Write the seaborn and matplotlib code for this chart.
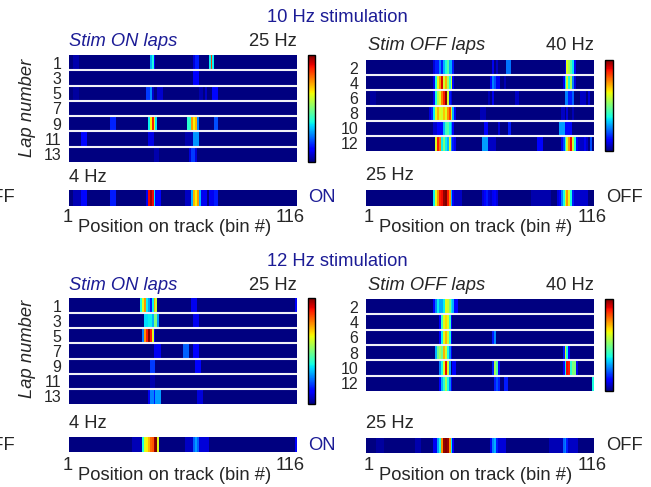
import numpy as np
import matplotlib
matplotlib.use("Agg")
import matplotlib.pyplot as plt
import seaborn as sns

sns.set_style("white")
plt.rcParams["font.family"] = ["Liberation Sans", "DejaVu Sans"]

# Datos: fraccion de la escala de color por bin (indice 0..115), resto = 0
# cada entrada es (primer_bin, ultimo_bin, valor)

n_bins = 116

on_laps = [1, 3, 5, 7, 9, 11, 13]
off_laps = [2, 4, 6, 8, 10, 12]

on10_rows = [
    [(2, 4, .04), (41, 41, .3), (42, 42, .38), (43, 43, .12), (63, 63, .08), (64, 65, .15),
     (71, 71, .36), (72, 72, .85), (73, 73, .36)],
    [(63, 65, .12)],
    [(2, 4, .03), (39, 40, .18), (41, 41, .26), (42, 42, .07), (45, 47, .07), (66, 67, .04),
     (69, 69, .06), (73, 75, .13)],
    [],
    [(21, 23, .16), (40, 40, .36), (41, 41, .65), (42, 42, .88), (43, 43, .6), (44, 44, .35),
     (60, 61, .4), (62, 62, .75), (63, 63, .65), (64, 64, .72), (65, 65, .25), (74, 75, .2)],
    [(6, 8, .13), (40, 42, .09), (59, 62, .04), (63, 65, .27)],
    [(43, 45, .04), (61, 61, .08), (62, 63, .18), (64, 64, .08)],
]
on10_mean = [(2, 5, .05), (6, 8, .13), (21, 23, .15), (39, 39, .1), (40, 40, .9), (41, 41, .97),
             (42, 42, .9), (43, 43, .35), (44, 46, .12), (59, 61, .06), (62, 62, .3), (63, 63, .72),
             (64, 64, .65), (65, 65, .75), (66, 66, .3), (67, 69, .1), (71, 73, .1), (74, 75, .15)]

off10_rows = [
    [(34, 34, .08), (35, 36, .15), (37, 37, .25), (38, 38, .15), (39, 39, .3), (40, 40, .38),
     (41, 41, .45), (42, 43, .3), (44, 44, .15), (64, 64, .1), (66, 66, .06), (71, 73, .24),
     (101, 101, .1), (102, 102, .62), (103, 103, .55), (104, 104, .45), (105, 105, .35), (106, 106, .1)],
    [(34, 34, .1), (35, 35, .38), (36, 36, .62), (37, 37, .75), (38, 38, .92), (39, 39, .6),
     (40, 40, .72), (41, 41, .55), (42, 42, .38), (43, 43, .6), (44, 44, .12), (63, 63, .12),
     (64, 64, .25), (65, 65, .2), (66, 67, .1), (70, 70, .05), (100, 100, .1), (101, 101, .35),
     (102, 102, .6), (103, 103, .38), (104, 104, .55), (105, 105, .25), (106, 106, .08)],
    [(2, 4, .03), (34, 34, .1), (35, 35, .38), (36, 36, .55), (37, 37, .62), (38, 38, .78),
     (39, 39, .88), (40, 40, 1.0), (41, 41, .6), (42, 42, .15), (43, 43, .08), (62, 62, .05),
     (64, 64, .1), (76, 77, .06), (101, 102, .25), (103, 104, .15), (105, 105, .22),
     (109, 111, .06), (113, 113, .08)],
    [(32, 32, .08), (33, 33, .16), (34, 34, .36), (35, 35, .62), (36, 36, .72), (37, 37, .62),
     (38, 38, .6), (39, 39, .7), (40, 40, .62), (41, 41, .76), (42, 42, .85), (43, 43, .6),
     (44, 44, .3), (45, 45, .1), (58, 60, .05), (99, 100, .06), (102, 102, .08), (105, 105, .05)],
    [(34, 35, .07), (36, 38, .12), (39, 39, .3), (40, 40, .42), (41, 41, .45), (42, 42, .36),
     (43, 43, .28), (44, 44, .12), (60, 61, .12), (67, 67, .08), (72, 73, .15), (98, 100, .28),
     (101, 104, .13)],
    [(35, 35, .62), (36, 36, .88), (37, 37, .78), (38, 38, .36), (39, 39, .5), (40, 40, .36),
     (41, 41, .3), (42, 42, .6), (43, 43, .25), (44, 44, .15), (45, 45, .1), (59, 61, .28),
     (62, 65, .06), (87, 89, .12), (99, 99, .1), (100, 100, .2), (101, 101, .38), (102, 102, .6),
     (103, 103, .75), (104, 104, .9), (105, 105, .6), (106, 106, .38), (107, 107, .12),
     (108, 110, .06), (111, 111, .1), (112, 112, .06), (114, 114, .2)],
]
off10_mean = [(34, 34, .36), (35, 35, .62), (36, 36, .75), (37, 37, .88), (38, 38, .9), (39, 39, .98),
              (40, 40, 1.0), (41, 41, .88), (42, 42, .75), (43, 43, .3), (44, 44, .12), (45, 48, .06),
              (59, 59, .08), (60, 60, .12), (61, 61, .15), (62, 62, .08), (63, 63, .06), (64, 64, .1),
              (65, 65, .12), (66, 66, .08), (84, 93, .04), (97, 97, .08), (98, 98, .12), (99, 99, .25),
              (100, 100, .38), (101, 101, .6), (102, 102, .75), (103, 103, .62), (104, 104, .38),
              (105, 105, .15), (106, 112, .07)]

on12_rows = [
    [(36, 36, .38), (37, 37, .62), (38, 38, .75), (39, 39, .36), (40, 40, .28), (41, 41, .15),
     (42, 42, .36), (43, 43, .72), (44, 44, .6), (62, 64, .1), (115, 115, .12)],
    [(38, 39, .34), (40, 41, .36), (42, 42, .3), (43, 44, .5), (45, 45, .28), (63, 65, .1)],
    [(37, 37, .25), (38, 38, .75), (39, 39, .88), (40, 40, 1.0), (41, 41, .88), (42, 42, .62),
     (43, 43, .12)],
    [(43, 46, .1), (58, 60, .22), (63, 65, .12)],
    [(41, 43, .18), (64, 66, .12)],
    [(41, 43, .04)],
    [(40, 40, .1), (41, 42, .25), (43, 43, .15), (44, 46, .28), (65, 67, .08)],
]
on12_mean = [(32, 36, .05), (37, 37, .38), (38, 38, .62), (39, 39, .65), (40, 40, .72), (41, 41, .8),
             (42, 42, .82), (43, 43, .98), (44, 44, 1.0), (45, 45, .62), (59, 62, .06), (63, 63, .22),
             (64, 64, .28), (65, 65, .22), (66, 70, .08), (115, 115, .12)]

off12_rows = [
    [(34, 34, .12), (35, 35, .25), (36, 36, .36), (37, 38, .29), (39, 39, .36), (40, 40, .62),
     (41, 41, .6), (42, 42, .5), (43, 43, .36), (44, 44, .3), (45, 46, .12)],
    [(37, 37, .12), (38, 38, .42), (39, 39, .62), (40, 40, .68), (41, 41, .62), (42, 42, .4),
     (43, 43, .12)],
    [(37, 37, .12), (38, 38, .36), (39, 39, .62), (40, 40, .72), (41, 41, .6), (42, 42, .38),
     (43, 43, .1), (64, 64, .15), (65, 65, .26)],
    [(35, 35, .3), (36, 36, .48), (37, 37, .55), (38, 38, .48), (39, 39, .72), (40, 40, .6),
     (41, 41, .38), (42, 42, .25), (43, 43, .1), (100, 100, .15), (101, 101, .6), (102, 102, .38),
     (103, 103, .12)],
    [(37, 37, .25), (38, 38, .38), (39, 39, .62), (40, 40, .9), (41, 41, .6), (42, 42, .28),
     (44, 45, .12), (64, 64, .15), (65, 65, .55), (66, 66, .45), (67, 67, .12), (100, 100, .12),
     (101, 101, .36), (102, 102, .9), (103, 103, .88), (104, 104, .4), (105, 106, .5), (107, 107, .1)],
    [(37, 37, .12), (38, 38, .3), (39, 39, .4), (40, 40, .55), (41, 41, .38), (42, 42, .25),
     (43, 43, .1), (65, 65, .15), (66, 66, .2), (67, 67, .15), (70, 71, .15), (115, 115, .38)],
]
off12_mean = [(5, 8, .03), (25, 27, .04), (34, 35, .1), (36, 36, .28), (37, 37, .38), (38, 38, .75),
              (39, 39, .98), (40, 40, 1.0), (41, 41, .97), (42, 42, .75), (43, 43, .36), (44, 44, .12),
              (63, 63, .1), (64, 64, .25), (65, 65, .3), (66, 66, .15), (67, 70, .08), (93, 99, .05),
              (100, 100, .22), (101, 101, .25), (102, 102, .15), (103, 107, .06)]

# Figura

W, H = 651, 487
fig = plt.figure(figsize=(W / 100, H / 100), dpi=100)
navy = "#1c1c96"
fs = 13.2
fs_lap = 11.5


def to_matrix(rows):
    mat = np.zeros((len(rows), n_bins))
    for i, row in enumerate(rows):
        for first, last, val in row:
            mat[i, first:last + 1] = val
    return mat


def box(x0, y0, x1, y1):
    return [x0 / W, 1 - y1 / H, (x1 - x0) / W, (y1 - y0) / H]


def ptext(x, y, s, **kw):
    kw.setdefault("fontsize", fs)
    kw.setdefault("va", "center")
    fig.text(x / W, 1 - y / H, s, **kw)


def panel(rows, laps, mean, hm, cb, mb):
    ax = fig.add_axes(box(*hm))
    cax = fig.add_axes(box(*cb))
    sns.heatmap(to_matrix(rows), ax=ax, cmap="jet", vmin=0, vmax=1,
                cbar_ax=cax, xticklabels=False, yticklabels=False)
    ax.set_yticks(np.arange(len(laps)) + 0.5)
    ax.set_yticklabels(laps, rotation=0, fontsize=fs_lap)
    ax.tick_params(axis="y", length=0, pad=5.5)
    for i in range(1, len(laps)):
        ax.axhline(i, color="#f2f2f8", lw=1.5)
    cbar = ax.collections[0].colorbar
    cbar.set_ticks([])
    cbar.outline.set_linewidth(1)
    cbar.outline.set_edgecolor("black")

    axm = fig.add_axes(box(*mb))
    sns.heatmap(to_matrix([mean]), ax=axm, cmap="jet", vmin=0, vmax=1,
                cbar=False, xticklabels=False, yticklabels=False)


sections = [
    dict(title="10 Hz stimulation", on=(on10_rows, on10_mean), off=(off10_rows, off10_mean),
         y=dict(title=18, ont=42, offt=46, onhm=(55, 162), offhm=(60, 151), onhz=177, offhz=175,
                onm=(190, 206), offm=(190, 206), tick=217, xl=228, side=198, lap=108)),
    dict(title="12 Hz stimulation", on=(on12_rows, on12_mean), off=(off12_rows, off12_mean),
         y=dict(title=261, ont=285, offt=286, onhm=(298, 404), offhm=(299, 391), onhz=424, offhz=423,
                onm=(437, 452), offm=(438, 453), tick=465, xl=475, side=445, lap=349)),
]

for sec in sections:
    y = sec["y"]
    panel(sec["on"][0], on_laps, sec["on"][1],
          (69, y["onhm"][0], 297, y["onhm"][1]),
          (308, y["onhm"][0], 315, y["onhm"][1]),
          (69, y["onm"][0], 297, y["onm"][1]))
    panel(sec["off"][0], off_laps, sec["off"][1],
          (366, y["offhm"][0], 594, y["offhm"][1]),
          (605, y["offhm"][0], 613, y["offhm"][1]),
          (366, y["offm"][0], 594, y["offm"][1]))

    ptext(337, y["title"], sec["title"], ha="center", color=navy)
    ptext(69, y["ont"], "Stim ON laps", ha="left", color=navy, style="italic")
    ptext(297, y["ont"], "25 Hz", ha="right")
    ptext(368, y["offt"], "Stim OFF laps", ha="left", style="italic")
    ptext(594, y["offt"], "40 Hz", ha="right")
    ptext(69, y["onhz"], "4 Hz", ha="left")
    ptext(366, y["offhz"], "25 Hz", ha="left")
    ptext(27, y["lap"], "Lap number", ha="center", rotation=90, style="italic")
    ptext(15, y["side"], "OFF", ha="right")
    ptext(308, y["side"], "ON", ha="left", color=navy)
    ptext(606, y["side"], "OFF", ha="left")
    for x1, x116, xc in [(67.5, 290, 174.5), (368.5, 592, 475.5)]:
        ptext(x1, y["tick"], "1", ha="center")
        ptext(x116, y["tick"], "116", ha="center")
        ptext(xc, y["xl"], "Position on track (bin #)", ha="center")

fig.savefig("out.png", dpi=100)
plt.close(fig)
